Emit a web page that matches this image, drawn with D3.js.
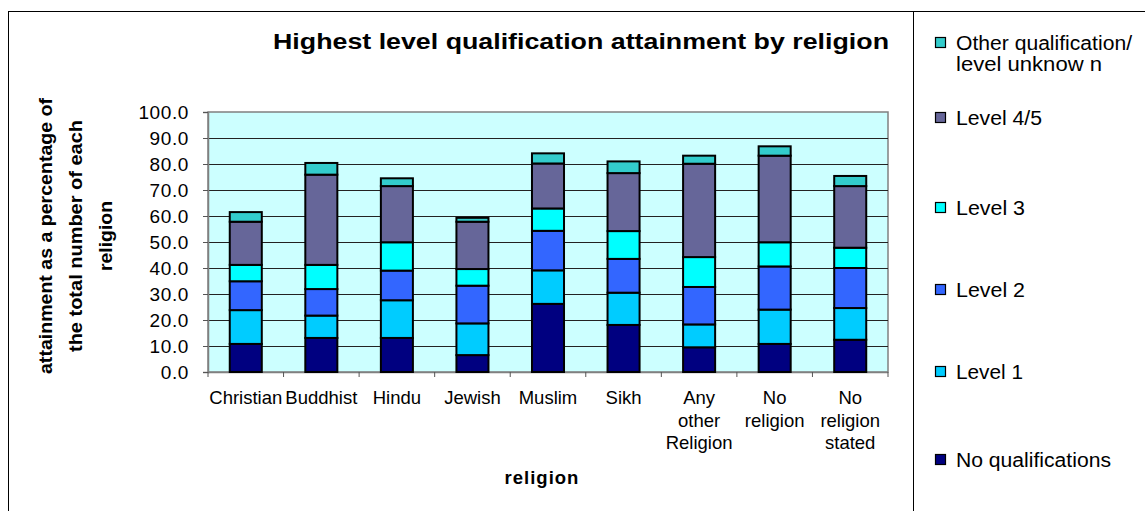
<!DOCTYPE html>
<html>
<head>
<meta charset="utf-8">
<script src="https://cdn.jsdelivr.net/npm/d3@7/dist/d3.min.js"></script>
<style>
  html, body { margin: 0; padding: 0; background: #fff; }
  svg { display: block; font-family: "Liberation Sans", Arial, sans-serif; }
</style>
</head>
<body>
<svg id="chart" width="1145" height="511"></svg>
<script>
// ---- data ----
const categories = ["Christian", "Buddhist", "Hindu", "Jewish", "Muslim", "Sikh", "Any other Religion", "No religion", "No religion stated"];
const categoryLines = [["Christian"], ["Buddhist"], ["Hindu"], ["Jewish"], ["Muslim"], ["Sikh"], ["Any", "other", "Religion"], ["No", "religion"], ["No", "religion", "stated"]];
const seriesNames = ["No qualifications", "Level 1", "Level 2", "Level 3", "Level 4/5", "Other qualification/ level unknow n"];
const noQualifications = [10.8, 13.1, 13.1, 6.5, 26.2, 18.1, 9.5, 10.8, 12.4];
const level1 = [13.0, 8.6, 14.5, 12.2, 12.9, 12.4, 8.8, 13.2, 12.2];
const level2 = [11.1, 10.2, 11.4, 14.5, 15.2, 13.0, 14.4, 16.6, 15.4];
const level3 = [6.3, 9.3, 10.9, 6.4, 8.6, 10.7, 11.5, 9.3, 7.8];
const level45 = [16.6, 34.7, 21.6, 18.2, 17.3, 22.3, 35.9, 33.3, 23.7];
const otherQual = [3.7, 4.5, 3.0, 1.5, 3.9, 4.5, 3.1, 3.6, 3.9];
const yTicks = [0, 10, 20, 30, 40, 50, 60, 70, 80, 90, 100];
const colors = ["#000080", "#00CCFF", "#3366FF", "#00FFFF", "#666699", "#33CCCC"];

const seriesValues = [noQualifications, level1, level2, level3, level45, otherQual];
const table = categories.map((c, i) => {
  const row = { cat: c };
  seriesNames.forEach((s, j) => row[s] = seriesValues[j][i]);
  return row;
});

const svg = d3.select("#chart");
const L = 208, R = 888, T = 112, B = 372;

// outer frame
svg.append("rect").attr("x", 8.5).attr("y", 11.5).attr("width", 1150).attr("height", 520)
  .attr("fill", "none").attr("stroke", "#000").attr("stroke-width", 1);
svg.append("line").attr("x1", 913.5).attr("x2", 913.5).attr("y1", 11).attr("y2", 511)
  .attr("stroke", "#000").attr("stroke-width", 1);

const x = d3.scaleBand().domain(categories).range([L, R]).paddingInner(0.576).paddingOuter(0.288);
const y = d3.scaleLinear().domain([0, 100]).range([B, T]);

// plot background
svg.append("rect").attr("x", L).attr("y", T).attr("width", R - L).attr("height", B - T)
  .attr("fill", "#CCFFFF").attr("stroke", "#808080").attr("stroke-width", 1.5);

// gridlines
svg.append("g").selectAll("line").data(yTicks.filter(d => d > 0 && d < 100)).join("line")
  .attr("x1", L).attr("x2", R).attr("y1", d => Math.round(y(d)) + 0.5).attr("y2", d => Math.round(y(d)) + 0.5)
  .attr("stroke", "#222").attr("stroke-width", 1);

// y axis
const yAxis = svg.append("g").attr("transform", `translate(${L},0)`)
  .call(d3.axisLeft(y).tickValues(yTicks).tickFormat(d3.format(".1f")).tickSize(5).tickPadding(14));
yAxis.select(".domain").attr("stroke", "#808080").attr("stroke-width", 1.5);
yAxis.selectAll(".tick line").attr("stroke", "#555");
yAxis.selectAll(".tick text").attr("font-size", 19).attr("fill", "#000").attr("letter-spacing", 0.6)
  .attr("font-family", "Liberation Sans, Arial, sans-serif");

// x axis
const step = x.step();
const boundaries = d3.range(categories.length + 1).map(i => L + i * step);
svg.append("line").attr("x1", L).attr("x2", R).attr("y1", B + 0.5).attr("y2", B + 0.5)
  .attr("stroke", "#808080").attr("stroke-width", 1.5);
svg.append("g").selectAll("line").data(boundaries).join("line")
  .attr("x1", d => d).attr("x2", d => d).attr("y1", B).attr("y2", B + 5)
  .attr("stroke", "#555").attr("stroke-width", 1);

// category labels
const catG = svg.append("g");
categories.forEach((c, i) => {
  const cx = x(c) + x.bandwidth() / 2;
  const t = catG.append("text").attr("x", cx).attr("y", 404)
    .attr("text-anchor", "middle").attr("font-size", 18.5);
  categoryLines[i].forEach((ln, k) => {
    t.append("tspan").attr("x", cx).attr("dy", k === 0 ? 0 : 22.5).text(ln);
  });
});

// stacked bars
const stack = d3.stack().keys(seriesNames)(table);
svg.append("g").selectAll("g").data(stack).join("g")
  .attr("fill", (d, i) => colors[i])
  .selectAll("rect").data(d => d).join("rect")
  .attr("x", d => x(d.data.cat))
  .attr("width", x.bandwidth())
  .attr("y", d => y(d[1]))
  .attr("height", d => y(d[0]) - y(d[1]))
  .attr("stroke", "#000").attr("stroke-width", 2);

// title
svg.append("text").attr("x", 581).attr("y", 49).attr("text-anchor", "middle")
  .attr("font-size", 22).attr("font-weight", "bold")
  .attr("textLength", 616).attr("lengthAdjust", "spacingAndGlyphs")
  .text("Highest level qualification attainment by religion");

// y axis title
const yTitleLines = [["attainment as a percentage of", 52, 276], ["the total number of each", 82, 232], ["religion", 112, 70]];
yTitleLines.forEach(([s, xx, len]) => {
  svg.append("text").attr("transform", `translate(${xx},${236}) rotate(-90)`)
    .attr("text-anchor", "middle").attr("font-size", 19).attr("font-weight", "bold")
    .attr("textLength", len).attr("lengthAdjust", "spacingAndGlyphs")
    .text(s);
});

// x axis title
svg.append("text").attr("x", 542).attr("y", 484).attr("text-anchor", "middle")
  .attr("font-size", 18.5).attr("font-weight", "bold").attr("letter-spacing", 1).text("religion");

// legend
const legendItems = [
  { color: colors[5], y: 43, lines: [["Other qualification/", 176], ["level unknow n", 146]] },
  { color: colors[4], y: 118, lines: [["Level 4/5", 86]] },
  { color: colors[3], y: 208, lines: [["Level 3", 69]] },
  { color: colors[2], y: 290, lines: [["Level 2", 69]] },
  { color: colors[1], y: 372, lines: [["Level 1", 67]] },
  { color: colors[0], y: 460, lines: [["No qualifications", 155]] }
];
const lg = svg.append("g");
legendItems.forEach(it => {
  lg.append("rect").attr("x", 935.5).attr("y", it.y - 5.5).attr("width", 10).attr("height", 10)
    .attr("fill", it.color).attr("stroke", "#000").attr("stroke-width", 1.2);
  it.lines.forEach(([ln, len], k) => {
    lg.append("text").attr("x", 956).attr("y", it.y + 7 + k * 21).attr("font-size", 19.5)
      .attr("textLength", len).attr("lengthAdjust", "spacingAndGlyphs").text(ln);
  });
});
</script>
</body>
</html>
